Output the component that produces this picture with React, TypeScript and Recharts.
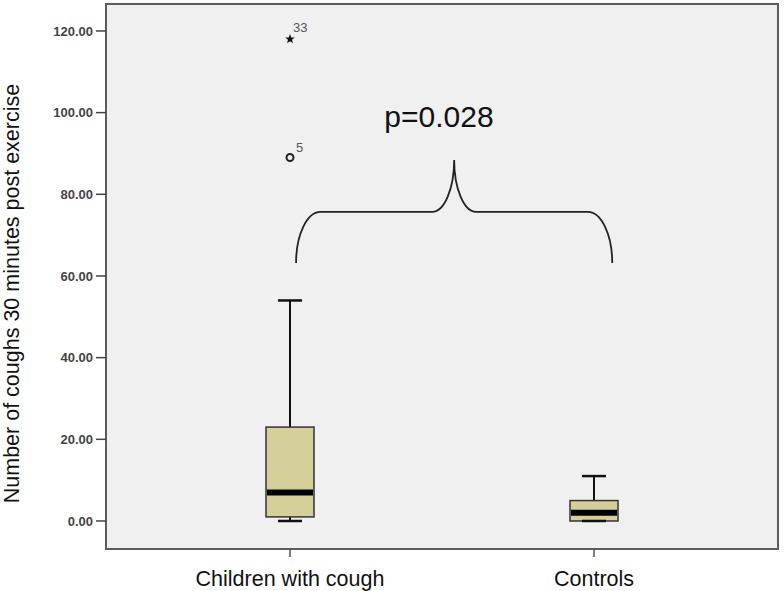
import * as Recharts from 'recharts'

const { ComposedChart, Bar, Scatter, XAxis, YAxis, CartesianGrid } = Recharts as any

// box plot summary per group
const groups = ['Children with cough', 'Controls']
const lowerWhisker = [0, 0]
const q1 = [1, 0]
const medians = [7, 2]
const q3 = [23, 5]
const upperWhisker = [54, 11]

// extreme values (SPSS: circle = outlier, star = extreme)
const outliers = [
  { group: 'Children with cough', value: 89, id: '5', kind: 'circle' },
  { group: 'Children with cough', value: 118, id: '33', kind: 'star' },
]

const yTicks = [0, 20, 40, 60, 80, 100, 120]
const yDomain: [number, number] = [-6.86, 126.6]
const yTitle = 'Number of coughs 30 minutes post exercise'

// significance brace, x in category units (0 = first group, 1 = second)
const pText = 'p=0.028'
const braceX = [0.02, 0.54, 1.06]
const braceY = { foot: 63.2, bar: 75.7, tip: 88.4 }
const pTextPos = { x: 0.49, y: 96.5 }

const W = 784
const H = 591
const MARGIN = { top: 4, right: 6, bottom: 0, left: 0 }
const Y_AXIS_W = 106
const X_AXIS_H = 42
const X_PAD = 32
const FONT = '"Liberation Sans", Arial, sans-serif'

const data = groups.map((name, i) => ({
  name,
  lo: lowerWhisker[i],
  q1: q1[i],
  median: medians[i],
  q3: q3[i],
  hi: upperWhisker[i],
  box: [q1[i], q3[i]],
}))

const outlierData = outliers.map((o) => ({ name: o.group, value: o.value, id: o.id, kind: o.kind }))

function BoxShape(props: any) {
  const { x, y, width, height, payload } = props
  const top = Math.min(y, y + height)
  const h = Math.abs(height)
  const ppu = h / (payload.q3 - payload.q1)
  const toY = (v: number) => top + (payload.q3 - v) * ppu
  const cx = x + width / 2
  const half = width / 4
  const yHi = toY(payload.hi)
  const yLo = toY(payload.lo)
  return (
    <g>
      <line x1={cx} x2={cx} y1={yHi} y2={top} stroke="#111" strokeWidth={2} />
      <line x1={cx} x2={cx} y1={top + h} y2={yLo} stroke="#111" strokeWidth={2} />
      <rect x={x} y={top} width={width} height={h} fill="#d5d09a" stroke="#333" strokeWidth={1.5} />
      <line x1={x + 1} x2={x + width - 1} y1={toY(payload.median)} y2={toY(payload.median)} stroke="#000" strokeWidth={6} />
      <line x1={cx - half} x2={cx + half} y1={yHi} y2={yHi} stroke="#111" strokeWidth={2.5} />
      <line x1={cx - half} x2={cx + half} y1={yLo} y2={yLo} stroke="#111" strokeWidth={2.5} />
    </g>
  )
}

function starPath(cx: number, cy: number, r: number) {
  const pts: string[] = []
  for (let k = 0; k < 10; k++) {
    const a = -Math.PI / 2 + (k * Math.PI) / 5
    const rr = k % 2 === 0 ? r : r * 0.42
    pts.push(`${cx + rr * Math.cos(a)},${cy + rr * Math.sin(a)}`)
  }
  return `M${pts.join('L')}Z`
}

function OutlierShape(props: any) {
  const { cx, cy, payload } = props
  if (cx == null || cy == null) return null
  const isStar = payload.kind === 'star'
  return (
    <g>
      {isStar ? (
        <path d={starPath(cx, cy, 5)} fill="#111" />
      ) : (
        <circle cx={cx} cy={cy} r={3.5} fill="none" stroke="#222" strokeWidth={2} />
      )}
      <text
        x={cx + (isStar ? 3 : 6)}
        y={cy - (isStar ? 7 : 6)}
        fontSize={13}
        fill="#555"
        fontFamily={FONT}
      >
        {payload.id}
      </text>
    </g>
  )
}

function Annotations() {
  const R = Recharts as any
  const area = R.usePlotArea ? R.usePlotArea() : undefined
  const plot = area ?? {
    x: MARGIN.left + Y_AXIS_W,
    y: MARGIN.top,
    width: W - MARGIN.left - MARGIN.right - Y_AXIS_W,
    height: H - MARGIN.top - MARGIN.bottom - X_AXIS_H,
  }
  const bw = (plot.width - 2 * X_PAD) / groups.length
  const xAt = (u: number) => plot.x + X_PAD + bw * (u + 0.5)
  const yAt = (v: number) => plot.y + ((yDomain[1] - v) / (yDomain[1] - yDomain[0])) * plot.height

  const L = xAt(braceX[0])
  const C = xAt(braceX[1])
  const Rt = xAt(braceX[2])
  const yF = yAt(braceY.foot)
  const yB = yAt(braceY.bar)
  const yT = yAt(braceY.tip)
  const cw = bw * 0.08
  const tw = bw * 0.072
  const k = 0.55
  const d = [
    `M${L},${yF}`,
    `C${L},${yF - k * (yF - yB)} ${L + (1 - k) * cw},${yB} ${L + cw},${yB}`,
    `L${C - tw},${yB}`,
    `C${C - tw + k * tw},${yB} ${C},${yT + k * (yB - yT)} ${C},${yT}`,
    `C${C},${yT + k * (yB - yT)} ${C + tw - k * tw},${yB} ${C + tw},${yB}`,
    `L${Rt - cw},${yB}`,
    `C${Rt - (1 - k) * cw},${yB} ${Rt},${yF - k * (yF - yB)} ${Rt},${yF}`,
  ].join(' ')

  const labelX = 19
  const labelY = plot.y + plot.height / 2 + 17
  return (
    <g>
      <rect x={plot.x} y={plot.y} width={plot.width} height={plot.height} fill="none" stroke="#5c5c5c" strokeWidth={2} />
      <path d={d} fill="none" stroke="#222" strokeWidth={1.8} />
      <text x={xAt(pTextPos.x)} y={yAt(pTextPos.y)} textAnchor="middle" fontSize={30} fill="#111" fontFamily={FONT}>
        {pText}
      </text>
      <text
        x={labelX}
        y={labelY}
        transform={`rotate(-90 ${labelX} ${labelY})`}
        textAnchor="middle"
        fontSize={21.5}
        fill="#111"
        fontFamily={FONT}
      >
        {yTitle}
      </text>
    </g>
  )
}

export default function App() {
  return (
    <div style={{ position: 'absolute', left: 0, top: 0, width: W, height: H, background: '#fff' }}>
      <ComposedChart width={W} height={H} data={data} margin={MARGIN} style={{ fontFamily: FONT }}>
        <CartesianGrid fill="#f0f0f0" horizontal={false} vertical={false} />
        <XAxis
          dataKey="name"
          type="category"
          allowDuplicatedCategory={false}
          height={X_AXIS_H}
          padding={{ left: X_PAD, right: X_PAD }}
          axisLine={false}
          tickSize={8}
          tickMargin={14}
          tickLine={{ stroke: '#555', strokeWidth: 1.5 }}
          tick={{ fill: '#111', fontSize: 21.5 }}
          interval={0}
        />
        <YAxis
          type="number"
          domain={yDomain}
          ticks={yTicks}
          width={Y_AXIS_W}
          allowDataOverflow
          axisLine={false}
          tickSize={10}
          tickMargin={3}
          tickLine={{ stroke: '#444', strokeWidth: 1.5 }}
          tick={{ fill: '#444', fontSize: 13, fontWeight: 'bold' }}
          tickFormatter={(v: number) => v.toFixed(2)}
        />
        <Bar dataKey="box" barSize={48} shape={BoxShape} isAnimationActive={false} />
        <Scatter data={outlierData} dataKey="value" shape={OutlierShape} isAnimationActive={false} />
        <Annotations />
      </ComposedChart>
    </div>
  )
}
